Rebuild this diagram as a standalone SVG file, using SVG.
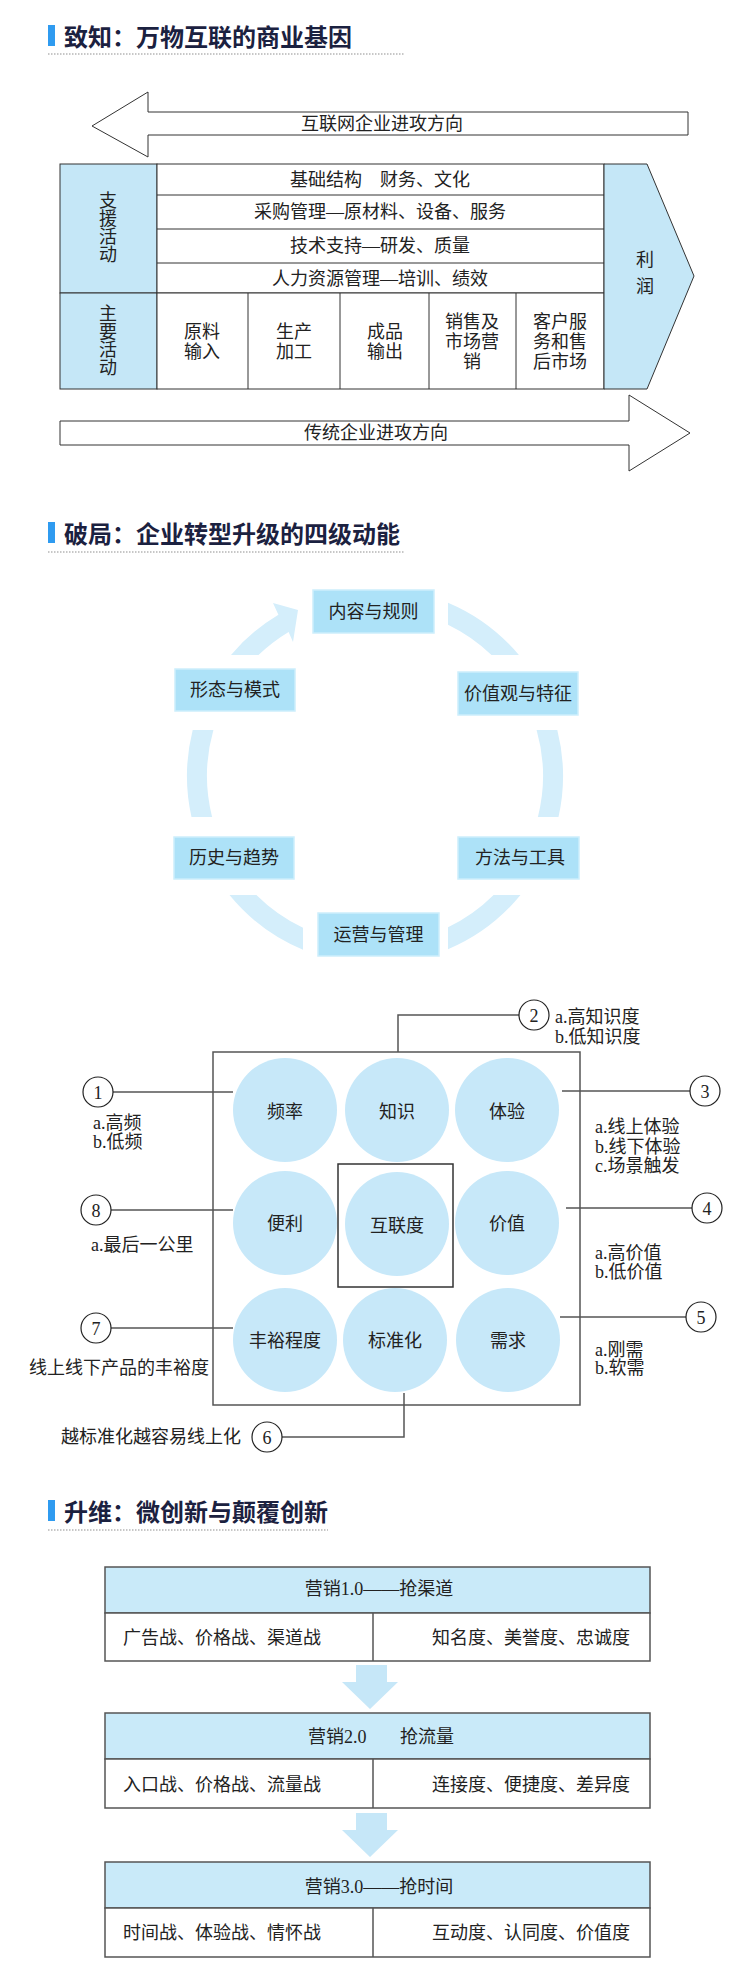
<svg xmlns="http://www.w3.org/2000/svg" width="750" height="1980" viewBox="0 0 750 1980">
<style>
.t{font-family:"Liberation Serif","Noto Sans CJK SC",serif;font-size:18px;fill:#222;dominant-baseline:central;}
.c{text-anchor:middle;}
.e{text-anchor:end;}
.h{font-family:"Noto Sans CJK SC",sans-serif;font-size:24px;font-weight:700;fill:#1b2140;dominant-baseline:central;}
.bar{fill:#2f9bf0;}
.dot{stroke:#b5b5b5;stroke-width:1.5;stroke-dasharray:1.5 1.5;fill:none;}
.ln{stroke:#333;stroke-width:1;fill:none;}
.gl{stroke:#555;stroke-width:1.5;fill:none;}
.blue{fill:#c5e7f7;stroke:#333;stroke-width:1;}
.wh{fill:#fff;stroke:#333;stroke-width:1;}
.ring{fill:#d4eefb;}
.box{fill:#ade2f8;stroke:#cdeefc;stroke-width:1.5;}
.cir{fill:#c7e8f9;}
.num{fill:#fff;stroke:#222;stroke-width:1.2;}
.hdr{fill:#c9eaf9;stroke:#555;stroke-width:1.5;}
.cell{fill:#fff;stroke:#555;stroke-width:1.5;}
.dn{fill:#c6e7f8;}
</style>
<rect x="0" y="0" width="750" height="1980" fill="#fff"/>

<!-- Section titles -->
<g id="title1">
<rect class="bar" x="48" y="25" width="7" height="21"/>
<text class="h" x="64" y="35">致知：万物互联的商业基因</text>
<line class="dot" x1="48" y1="54" x2="405" y2="54"/>
</g>
<g id="title2">
<rect class="bar" x="48" y="522" width="7" height="21"/>
<text class="h" x="64" y="532">破局：企业转型升级的四级动能</text>
<line class="dot" x1="48" y1="552" x2="405" y2="552"/>
</g>
<g id="title3">
<rect class="bar" x="48" y="1500" width="7" height="21"/>
<text class="h" x="64" y="1510">升维：微创新与颠覆创新</text>
<line class="dot" x1="48" y1="1530" x2="328" y2="1530"/>
</g>

<!-- Section 1: value chain -->
<g id="arrow-internet">
<polygon class="wh" points="92,126 148,92 148,112 688,112 688,135 148,135 148,157"/>
<text class="t c" x="382" y="124">互联网企业进攻方向</text>
</g>
<g id="support">
<rect class="blue" x="60" y="164" width="97" height="129"/>
<text class="t c"><tspan x="108" y="201">支</tspan><tspan x="108" y="219">援</tspan><tspan x="108" y="237">活</tspan><tspan x="108" y="255">动</tspan></text>
</g>
<g id="primary">
<rect class="blue" x="60" y="293" width="97" height="96"/>
<text class="t c"><tspan x="108" y="314">主</tspan><tspan x="108" y="332">要</tspan><tspan x="108" y="350">活</tspan><tspan x="108" y="368">动</tspan></text>
</g>
<g id="support-rows">
<rect class="wh" x="157" y="164" width="447" height="129"/>
<line class="ln" x1="157" y1="195" x2="604" y2="195"/>
<line class="ln" x1="157" y1="229" x2="604" y2="229"/>
<line class="ln" x1="157" y1="263" x2="604" y2="263"/>
<text class="t c" x="380" y="180">基础结构　财务、文化</text>
<text class="t c" x="380" y="212">采购管理—原材料、设备、服务</text>
<text class="t c" x="380" y="246">技术支持—研发、质量</text>
<text class="t c" x="380" y="279">人力资源管理—培训、绩效</text>
</g>
<g id="primary-cells">
<rect class="wh" x="157" y="293" width="447" height="96"/>
<line class="ln" x1="248" y1="293" x2="248" y2="389"/>
<line class="ln" x1="340" y1="293" x2="340" y2="389"/>
<line class="ln" x1="429" y1="293" x2="429" y2="389"/>
<line class="ln" x1="516" y1="293" x2="516" y2="389"/>
<text class="t c"><tspan x="202" y="332">原料</tspan><tspan x="202" y="352">输入</tspan></text>
<text class="t c"><tspan x="294" y="332">生产</tspan><tspan x="294" y="352">加工</tspan></text>
<text class="t c"><tspan x="385" y="332">成品</tspan><tspan x="385" y="352">输出</tspan></text>
<text class="t c"><tspan x="472" y="322">销售及</tspan><tspan x="472" y="342">市场营</tspan><tspan x="472" y="362">销</tspan></text>
<text class="t c"><tspan x="560" y="322">客户服</tspan><tspan x="560" y="342">务和售</tspan><tspan x="560" y="362">后市场</tspan></text>
</g>
<g id="profit">
<polygon class="blue" points="604,164 647,164 694,276 647,389 604,389"/>
<text class="t c"><tspan x="645" y="260">利</tspan><tspan x="645" y="287">润</tspan></text>
</g>
<g id="arrow-traditional">
<polygon class="wh" points="60,421 629,421 629,395 690,433 629,471 629,445 60,445"/>
<text class="t c" x="376" y="433">传统企业进攻方向</text>
</g>

<!-- Section 2: cycle -->
<g id="cycle-ring">
<path class="ring" d="M231,655 A188,188 0 0 1 278.4,614.7 L273,603 L298,610 L293,642 L288.6,631.9 A168,168 0 0 0 258.5,655 Z"/>
<path class="ring" d="M448,602.7 A188,188 0 0 1 518.9,655 L491.5,655 A168,168 0 0 0 448,624.7 Z"/>
<path class="ring" d="M557.3,730 A188,188 0 0 1 558.5,817 L537.9,817 A168,168 0 0 0 536.6,730 Z"/>
<path class="ring" d="M520.5,895 A188,188 0 0 1 448,949.3 L448,927.3 A168,168 0 0 0 493.6,895 Z"/>
<path class="ring" d="M303,949.7 A188,188 0 0 1 229.5,895 L256.4,895 A168,168 0 0 0 303,927.8 Z"/>
<path class="ring" d="M192.7,730 A188,188 0 0 0 191.5,817 L212.1,817 A168,168 0 0 1 213.4,730 Z"/>
</g>
<g id="n-content">
<rect class="box" x="313" y="590" width="121" height="43"/>
<text class="t c" x="373.5" y="611.5">内容与规则</text>
</g>
<g id="n-form">
<rect class="box" x="175" y="669" width="120" height="42"/>
<text class="t c" x="235" y="690">形态与模式</text>
</g>
<g id="n-value">
<rect class="box" x="458" y="672" width="120" height="43"/>
<text class="t c" x="518" y="693.5">价值观与特征</text>
</g>
<g id="n-history">
<rect class="box" x="174" y="837" width="120" height="42"/>
<text class="t c" x="234" y="858">历史与趋势</text>
</g>
<g id="n-method">
<rect class="box" x="458" y="837" width="121" height="42"/>
<text class="t c" x="520" y="858">方法与工具</text>
</g>
<g id="n-operation">
<rect class="box" x="318" y="913" width="121" height="43"/>
<text class="t c" x="378.5" y="934.5">运营与管理</text>
</g>

<!-- Section 3: nine factors -->
<g id="frame">
<rect x="213" y="1052" width="367" height="353" fill="none" stroke="#555" stroke-width="1.5"/>
</g>
<g id="connectors">
<polyline class="gl" points="113,1092 233,1092"/>
<polyline class="gl" points="519,1015 398,1015 398,1052"/>
<polyline class="gl" points="562,1091 690,1091"/>
<polyline class="gl" points="566,1208 692,1208"/>
<polyline class="gl" points="560,1317 686,1317"/>
<polyline class="gl" points="282,1437 404,1437 404,1393"/>
<polyline class="gl" points="111,1328 233,1328"/>
<polyline class="gl" points="111,1210 233,1210"/>
<polygon class="dn" points="356,1665 387,1665 387,1682 398,1682 370,1709 342,1682 356,1682"/>
<polygon class="dn" points="356,1813 387,1813 387,1830 398,1830 370,1857 342,1830 356,1830"/>
</g>
<g id="f-freq"><circle class="cir" cx="285" cy="1110" r="52"/><text class="t c" x="285" y="1112">频率</text></g>
<g id="f-know"><circle class="cir" cx="397" cy="1110" r="52"/><text class="t c" x="397" y="1112">知识</text></g>
<g id="f-exp"><circle class="cir" cx="507" cy="1110" r="52"/><text class="t c" x="507" y="1112">体验</text></g>
<g id="f-conv"><circle class="cir" cx="285" cy="1223" r="52"/><text class="t c" x="285" y="1224">便利</text></g>
<g id="f-inter">
<rect x="338" y="1164" width="115" height="123" fill="none" stroke="#333" stroke-width="1.5"/>
<circle class="cir" cx="397" cy="1224" r="52"/><text class="t c" x="397" y="1226">互联度</text></g>
<g id="f-val"><circle class="cir" cx="507" cy="1223" r="52"/><text class="t c" x="507" y="1224">价值</text></g>
<g id="f-rich"><circle class="cir" cx="285" cy="1340" r="52"/><text class="t c" x="285" y="1341">丰裕程度</text></g>
<g id="f-std"><circle class="cir" cx="395" cy="1340" r="52"/><text class="t c" x="395" y="1341">标准化</text></g>
<g id="f-need"><circle class="cir" cx="508" cy="1340" r="52"/><text class="t c" x="508" y="1341">需求</text></g>

<g id="c1"><circle class="num" cx="98" cy="1092" r="15"/><text class="t c" x="98" y="1093">1</text>
<text class="t" x="93" y="1123">a.高频</text><text class="t" x="93" y="1142">b.低频</text></g>
<g id="c2"><circle class="num" cx="534" cy="1015" r="15"/><text class="t c" x="534" y="1016">2</text>
<text class="t" x="555" y="1017">a.高知识度</text><text class="t" x="555" y="1037">b.低知识度</text></g>
<g id="c3"><circle class="num" cx="705" cy="1091" r="15"/><text class="t c" x="705" y="1092">3</text>
<text class="t" x="595" y="1127">a.线上体验</text><text class="t" x="595" y="1147">b.线下体验</text><text class="t" x="595" y="1166">c.场景触发</text></g>
<g id="c4"><circle class="num" cx="707" cy="1208" r="15"/><text class="t c" x="707" y="1209">4</text>
<text class="t" x="595" y="1253">a.高价值</text><text class="t" x="595" y="1272">b.低价值</text></g>
<g id="c5"><circle class="num" cx="701" cy="1317" r="15"/><text class="t c" x="701" y="1318">5</text>
<text class="t" x="595" y="1350">a.刚需</text><text class="t" x="595" y="1368">b.软需</text></g>
<g id="c6"><circle class="num" cx="267" cy="1437" r="15"/><text class="t c" x="267" y="1438">6</text>
<text class="t e" x="241" y="1437">越标准化越容易线上化</text></g>
<g id="c7"><circle class="num" cx="96" cy="1328" r="15"/><text class="t c" x="96" y="1329">7</text>
<text class="t" x="29" y="1368">线上线下产品的丰裕度</text></g>
<g id="c8"><circle class="num" cx="96" cy="1210" r="15"/><text class="t c" x="96" y="1211">8</text>
<text class="t" x="91" y="1245">a.最后一公里</text></g>

<!-- Section 4: marketing stages -->
<g id="m1">
<rect class="hdr" x="105" y="1567" width="545" height="46"/>
<rect class="cell" x="105" y="1613" width="545" height="48"/>
<line class="gl" x1="373" y1="1613" x2="373" y2="1661"/>
<text class="t c" x="379" y="1589">营销1.0——抢渠道</text>
<text class="t" x="123" y="1638">广告战、价格战、渠道战</text>
<text class="t" x="432" y="1638">知名度、美誉度、忠诚度</text>
</g>
<g id="m2">
<rect class="hdr" x="105" y="1713" width="545" height="46"/>
<rect class="cell" x="105" y="1759" width="545" height="49"/>
<line class="gl" x1="373" y1="1759" x2="373" y2="1808"/>
<text class="t" x="308" y="1737">营销2.0<tspan x="400">抢流量</tspan></text>
<text class="t" x="123" y="1785">入口战、价格战、流量战</text>
<text class="t" x="432" y="1785">连接度、便捷度、差异度</text>
</g>
<g id="m3">
<rect class="hdr" x="105" y="1862" width="545" height="46"/>
<rect class="cell" x="105" y="1908" width="545" height="49"/>
<line class="gl" x1="373" y1="1908" x2="373" y2="1957"/>
<text class="t c" x="379" y="1887">营销3.0——抢时间</text>
<text class="t" x="123" y="1933">时间战、体验战、情怀战</text>
<text class="t" x="432" y="1933">互动度、认同度、价值度</text>
</g>
</svg>
